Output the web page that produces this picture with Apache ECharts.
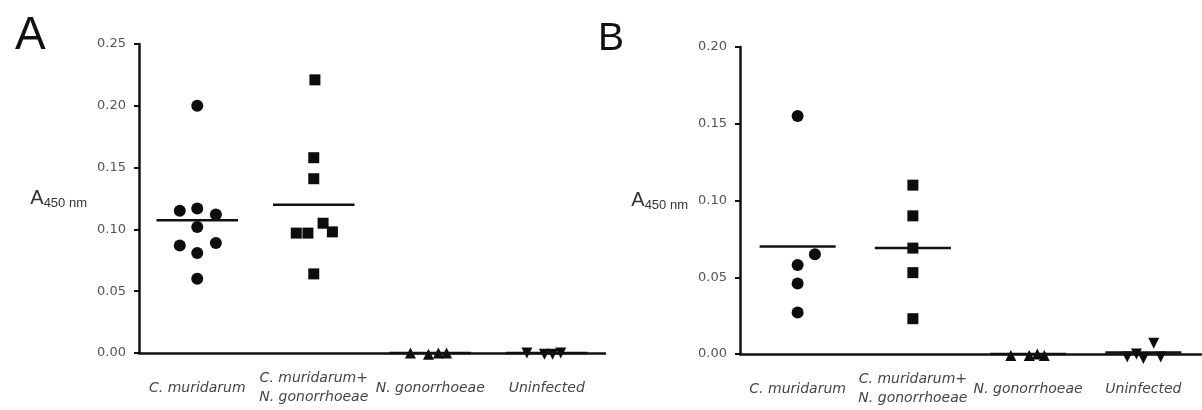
<!DOCTYPE html>
<html>
<head>
<meta charset="utf-8">
<script src="https://cdn.jsdelivr.net/npm/echarts@6/dist/echarts.min.js"></script>
<style>
  html, body { margin: 0; padding: 0; background: #ffffff; }
  #chart { width: 1202px; height: 410px; }
</style>
</head>
<body>
<div id="chart"></div>
<script>
// ---------- data ----------
const categories = ['C. muridarum', 'C. muridarum+\nN. gonorrhoeae', 'N. gonorrhoeae', 'Uninfected'];
const yMaxA = 0.25;
const yMaxB = 0.20;
const yStep = 0.05;

// Panel A values (A450 nm) and horizontal jitter (category units)
const A_cmur   = [0.200, 0.115, 0.117, 0.112, 0.102, 0.087, 0.089, 0.081, 0.060];
const A_cmurDx = [0, -0.15, 0, 0.16, 0, -0.15, 0.16, 0, 0];
const A_comb   = [0.221, 0.158, 0.141, 0.097, 0.097, 0.105, 0.098, 0.064];
const A_combDx = [0.01, 0, 0, -0.15, -0.05, 0.08, 0.16, 0];
const A_ngon   = [0.000, -0.001, 0.000, 0.000];
const A_ngonDx = [-0.17, -0.015, 0.07, 0.14];
const A_unin   = [0.000, -0.001, -0.001, 0.000];
const A_uninDx = [-0.17, -0.02, 0.05, 0.12];
const meansA   = [0.1075, 0.120, 0.000, 0.000];

// Panel B
const B_cmur   = [0.155, 0.065, 0.058, 0.046, 0.027];
const B_cmurDx = [0, 0.15, 0, 0, 0];
const B_comb   = [0.110, 0.090, 0.069, 0.053, 0.023];
const B_combDx = [0, 0, 0, 0, 0];
const B_ngon   = [-0.001, -0.001, 0.000, -0.001];
const B_ngonDx = [-0.15, 0.01, 0.08, 0.14];
const B_unin   = [-0.002, -0.003, 0.007, -0.002, 0.000];
const B_uninDx = [-0.14, 0, 0.09, 0.15, -0.06];
const meansB   = [0.070, 0.069, 0.000, 0.001];

// ---------- build ----------
const symbols = [
  { symbol: 'circle', rotate: 0, size: 12 },
  { symbol: 'rect', rotate: 0, size: 11 },
  { symbol: 'triangle', rotate: 0, size: 11 },
  { symbol: 'triangle', rotate: 180, size: 11 }
];
const panels = [
  { groups: [[A_cmur, A_cmurDx], [A_comb, A_combDx], [A_ngon, A_ngonDx], [A_unin, A_uninDx]], means: meansA, half: 0.35 },
  { groups: [[B_cmur, B_cmurDx], [B_comb, B_combDx], [B_ngon, B_ngonDx], [B_unin, B_uninDx]], means: meansB, half: 0.33 }
];

const series = [];
panels.forEach((p, pi) => {
  p.groups.forEach((g, gi) => {
    const vals = g[0], dx = g[1];
    series.push({
      type: 'scatter',
      xAxisIndex: pi * 2 + 1,
      yAxisIndex: pi,
      symbol: symbols[gi].symbol,
      symbolRotate: symbols[gi].rotate,
      symbolSize: symbols[gi].size,
      clip: false,
      itemStyle: { color: '#0d0d0d', opacity: 1 },
      data: vals.map((v, k) => [gi + dx[k], v]),
      z: 3
    });
    series.push({
      type: 'line',
      xAxisIndex: pi * 2 + 1,
      yAxisIndex: pi,
      symbol: 'none',
      clip: false,
      lineStyle: { color: '#111', width: 2.5 },
      data: [[gi - p.half, p.means[gi]], [gi + p.half, p.means[gi]]],
      z: 4
    });
  });
});

const grids = [
  { left: 139, width: 466, top: 44, bottom: 57 },
  { left: 740, width: 461, top: 47, bottom: 56 }
];

const xAxes = [];
const yAxes = [];
[yMaxA, yMaxB].forEach((ymax, gi) => {
  xAxes.push({
    type: 'category',
    gridIndex: gi,
    data: categories,
    boundaryGap: true,
    axisLine: { onZero: false, lineStyle: { color: '#111', width: 2.5 } },
    axisTick: { alignWithLabel: true, length: 6, lineStyle: { color: '#111', width: 2 } },
    axisLabel: {
      interval: 0,
      margin: 35,
      verticalAlign: 'middle',
      fontFamily: 'DejaVu Sans',
      fontStyle: 'italic',
      fontSize: 14,
      lineHeight: 19,
      color: '#444'
    },
    splitLine: { show: false },
    z: 2
  });
  xAxes.push({
    type: 'value',
    gridIndex: gi,
    min: -0.5,
    max: 3.5,
    show: false
  });
  yAxes.push({
    type: 'value',
    gridIndex: gi,
    min: 0,
    max: ymax,
    interval: yStep,
    name: '{a|A}{s|450 nm}',
    nameLocation: 'middle',
    nameRotate: 0,
    nameGap: 52,
    nameTextStyle: {
      rich: {
        a: { fontFamily: 'Liberation Sans', fontSize: 20, color: '#333' },
        s: { fontFamily: 'Liberation Sans', fontSize: 13, color: '#333', padding: [9, 0, 0, 0] }
      }
    },
    axisLine: { show: true, onZero: false, lineStyle: { color: '#111', width: 2.5 } },
    axisTick: { show: true, length: 5, lineStyle: { color: '#111', width: 2 } },
    axisLabel: {
      margin: 13,
      fontFamily: 'DejaVu Sans',
      fontSize: 13,
      color: '#555',
      formatter: v => v.toFixed(2)
    },
    splitLine: { show: false }
  });
});

const chart = echarts.init(document.getElementById('chart'), null, { renderer: 'canvas' });
chart.setOption({
  animation: false,
  backgroundColor: '#ffffff',
  title: [
    { text: 'A', left: 10, top: 8, textStyle: { fontFamily: 'Liberation Sans', fontSize: 46, fontWeight: 'normal', color: '#111' } },
    { text: 'B', left: 593, top: 15, textStyle: { fontFamily: 'Liberation Sans', fontSize: 39, fontWeight: 'normal', color: '#111' } }
  ],
  grid: grids,
  xAxis: xAxes,
  yAxis: yAxes,
  series: series
});
</script>
</body>
</html>
